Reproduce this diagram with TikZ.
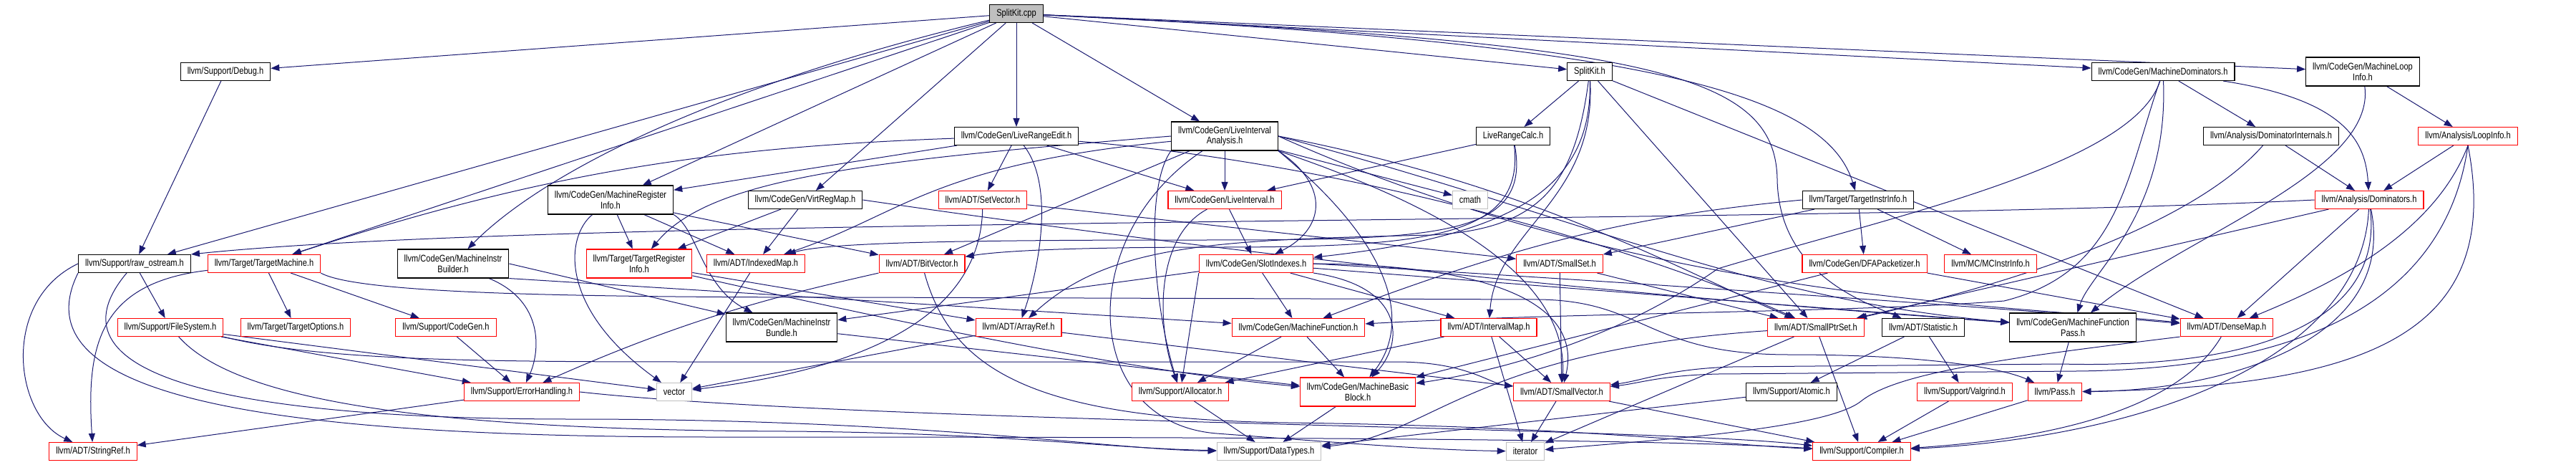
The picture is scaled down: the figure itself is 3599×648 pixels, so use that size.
\documentclass[tikz,border=0pt]{standalone}
\usepackage{fontspec}
\setmainfont{Liberation Sans}[FakeStretch=0.82]
\usetikzlibrary{arrows.meta,backgrounds}
\definecolor{IncNavy}{HTML}{191970}
\definecolor{IncRed}{HTML}{FF0000}
\definecolor{IncGrey}{HTML}{BFBFBF}
\tikzset{
  dep/.style={-{Triangle[length=12pt,width=9pt]}, line width=1pt, draw=IncNavy},
  hdr/.style={draw=black, fill=white, line width=1.1pt, minimum height=25pt,
              inner xsep=9.5pt, inner ysep=0pt, align=center,
              font=\fontsize{13.5}{14.7}\selectfont},
  twoline/.style={minimum height=40pt},
  hdrcut/.style={hdr, draw=IncRed},
  hdrsys/.style={hdr, draw=IncGrey},
  hdrroot/.style={hdr, fill=IncGrey},
}
\begin{document}
\begin{tikzpicture}[x=1pt,y=-1pt]
  \useasboundingbox (0,0) rectangle (3599,648);

  \node[hdrroot] (root) at (1420,19) {SplitKit.cpp};

  \node[hdr] (debug) at (315,100) {llvm/Support/Debug.h};
  \node[hdr] (splitkith) at (2221,100) {SplitKit.h};
  \node[hdr] (mdom) at (3022,100) {llvm/CodeGen/MachineDominators.h};
  \node[hdr,twoline] (mloop) at (3301,100) {llvm/CodeGen/MachineLoop\\Info.h};

  \node[hdr] (lre) at (1420,190) {llvm/CodeGen/LiveRangeEdit.h};
  \node[hdr,twoline] (lia) at (1711,190) {llvm/CodeGen/LiveInterval\\Analysis.h};
  \node[hdr] (lrc) at (2114,190) {LiveRangeCalc.h};
  \node[hdr] (domint) at (3173,190) {llvm/Analysis/DominatorInternals.h};
  \node[hdrcut] (loopinfo) at (3448,190) {llvm/Analysis/LoopInfo.h};

  \node[hdr,twoline] (mri) at (853,279) {llvm/CodeGen/MachineRegister\\Info.h};
  \node[hdr] (vrm) at (1125,279) {llvm/CodeGen/VirtRegMap.h};
  \node[hdrcut] (setvec) at (1373,279) {llvm/ADT/SetVector.h};
  \node[hdrcut] (liveint) at (1711,279) {llvm/CodeGen/LiveInterval.h};
  \node[hdrsys] (cmath) at (2054,279) {cmath};
  \node[hdr] (tii) at (2596,279) {llvm/Target/TargetInstrInfo.h};
  \node[hdrcut] (dom) at (3310,279) {llvm/Analysis/Dominators.h};

  \node[hdr] (rawos) at (188,368) {llvm/Support/raw\_ostream.h};
  \node[hdrcut] (tm) at (369,368) {llvm/Target/TargetMachine.h};
  \node[hdr,twoline] (mib) at (633,368) {llvm/CodeGen/MachineInstr\\Builder.h};
  \node[hdrcut,twoline] (tri) at (893,368) {llvm/Target/TargetRegister\\Info.h};
  \node[hdrcut] (idxmap) at (1056,368) {llvm/ADT/IndexedMap.h};
  \node[hdrcut] (bitvec) at (1288,368) {llvm/ADT/BitVector.h};
  \node[hdrcut] (slotidx) at (1755,368) {llvm/CodeGen/SlotIndexes.h};
  \node[hdrcut] (smallset) at (2179,368) {llvm/ADT/SmallSet.h};
  \node[hdrcut] (dfa) at (2605,368) {llvm/CodeGen/DFAPacketizer.h};
  \node[hdrcut] (mcii) at (2781,368) {llvm/MC/MCInstrInfo.h};

  \node[hdrcut] (fs) at (238,457) {llvm/Support/FileSystem.h};
  \node[hdrcut] (topt) at (413,457) {llvm/Target/TargetOptions.h};
  \node[hdrcut] (cg) at (623,457) {llvm/Support/CodeGen.h};
  \node[hdr,twoline] (mibundle) at (1092,457) {llvm/CodeGen/MachineInstr\\Bundle.h};
  \node[hdrcut] (arrayref) at (1423,457) {llvm/ADT/ArrayRef.h};
  \node[hdrcut] (mf) at (1814,457) {llvm/CodeGen/MachineFunction.h};
  \node[hdrcut] (ivmap) at (2080,457) {llvm/ADT/IntervalMap.h};
  \node[hdrcut] (smallptr) at (2537,457) {llvm/ADT/SmallPtrSet.h};
  \node[hdr] (stat) at (2687,457) {llvm/ADT/Statistic.h};
  \node[hdr,twoline] (mfp) at (2896,457) {llvm/CodeGen/MachineFunction\\Pass.h};
  \node[hdrcut] (densemap) at (3111,457) {llvm/ADT/DenseMap.h};

  \node[hdrcut] (errh) at (729,547) {llvm/Support/ErrorHandling.h};
  \node[hdrsys] (vector) at (942,547) {vector};
  \node[hdrcut] (alloc) at (1649,547) {llvm/Support/Allocator.h};
  \node[hdrcut,twoline] (mbb) at (1897,547) {llvm/CodeGen/MachineBasic\\Block.h};
  \node[hdrcut] (smallvec) at (2182,547) {llvm/ADT/SmallVector.h};
  \node[hdr] (atomic) at (2503,547) {llvm/Support/Atomic.h};
  \node[hdrcut] (valgrind) at (2745,547) {llvm/Support/Valgrind.h};
  \node[hdrcut] (pass) at (2871,547) {llvm/Pass.h};

  \node[hdrcut] (strref) at (130,630) {llvm/ADT/StringRef.h};
  \node[hdrsys] (datatypes) at (1773,630) {llvm/Support/DataTypes.h};
  \node[hdrsys] (iterator) at (2131,630) {iterator};
  \node[hdrcut] (compiler) at (2601,630) {llvm/Support/Compiler.h};

  \begin{scope}[on background layer]
    \draw[dep] (root) -- (debug);
    \draw[dep] (root) -- (rawos);
    \draw[dep] (root) -- (tm);
    \draw[dep] (root) -- (mri);
    \draw[dep] (root) .. controls (1000,120) and (760,240) .. (mib);
    \draw[dep] (root) -- (vrm);
    \draw[dep] (root) -- (lre);
    \draw[dep] (root) -- (lia);
    \draw[dep] (root) -- (splitkith);
    \draw[dep] (root) .. controls (2300,60) and (2550,130) .. (tii);
    \draw[dep] (root) -- (mdom);
    \draw[dep] (root) -- (mloop);
    \draw[dep] (root) .. controls (2300,60) and (2480,100) .. (2483,250) .. controls (2485,380) and (2600,420) .. (stat);

    \draw[dep] (debug) -- (rawos);

    \draw[dep] (splitkith) -- (lrc);
    \draw[dep] (splitkith) .. controls (2200,260) and (2150,320) .. (2000,328) .. controls (1700,335) and (1550,340) .. (arrayref);
    \draw[dep] (splitkith) -- (densemap);
    \draw[dep] (splitkith) .. controls (2230,280) and (2090,320) .. (ivmap);
    \draw[dep] (splitkith) -- (smallptr);
    \draw[dep] (splitkith) .. controls (2225,270) and (2100,330) .. (slotidx);

    \draw[dep] (mdom) .. controls (2980,230) and (2650,300) .. (2400,375) .. controls (2250,480) and (2080,520) .. (mbb);
    \draw[dep] (mdom) .. controls (2970,250) and (2960,380) .. (2800,420) .. controls (2600,436) and (2200,436) .. (mf);
    \draw[dep] (mdom) .. controls (3030,300) and (2920,380) .. (mfp);
    \draw[dep] (mdom) .. controls (3280,140) and (3305,200) .. (dom);
    \draw[dep] (mdom) -- (domint);

    \draw[dep] (mloop) .. controls (3320,240) and (3050,330) .. (mfp);
    \draw[dep] (mloop) -- (loopinfo);

    \draw[dep] (lre) .. controls (1475,260) and (1450,380) .. (arrayref);
    \draw[dep] (lre) .. controls (1900,230) and (2300,350) .. (smallptr);
    \draw[dep] (lre) -- (setvec);
    \draw[dep] (lre) -- (liveint);
    \draw[dep] (lre) -- (mri);
    \draw[dep] (lre) .. controls (1000,205) and (760,240) .. (tm);

    \draw[dep] (lia.south east) .. controls (1990,380) and (1950,480) .. (mbb);
    \draw[dep] (lia.east) .. controls (2200,300) and (2450,420) .. (mfp);
    \draw[dep] (lia) -- (liveint);
    \draw[dep] (lia.south east) .. controls (1860,260) and (1850,320) .. (slotidx);
    \draw[dep] (lia) -- (bitvec);
    \draw[dep] (lia.east) .. controls (2300,420) and (2800,425) .. (densemap);
    \draw[dep] (lia) .. controls (1300,230) and (1260,300) .. (idxmap);
    \draw[dep] (lia.east) .. controls (2150,260) and (2350,380) .. (smallptr);
    \draw[dep] (lia.south east) .. controls (2050,300) and (2190,400) .. (smallvec);
    \draw[dep] (lia.south west) .. controls (1600,260) and (1610,420) .. (alloc);
    \draw[dep] (lia.west) .. controls (1200,225) and (990,250) .. (tri);
    \draw[dep] (lia) -- (cmath);
    \draw[dep] (lia) .. controls (1500,330) and (1510,590) .. (1700,605) .. controls (1900,620) and (2000,628) .. (iterator);

    \draw[dep] (lrc) -- (liveint);
    \draw[dep] (lrc) .. controls (2130,330) and (2000,345) .. (1700,345) .. controls (1500,345) and (1400,350) .. (bitvec);
    \draw[dep] (lrc) .. controls (2140,335) and (2000,335) .. (1650,335) .. controls (1300,335) and (1150,340) .. (idxmap);

    \draw[dep] (domint) -- (dom);
    \draw[dep] (domint) .. controls (3050,330) and (2750,410) .. (smallptr);

    \draw[dep] (loopinfo) -- (dom);
    \draw[dep] (loopinfo.south) .. controls (3400,330) and (3250,400) .. (densemap);
    \draw[dep] (loopinfo.south) .. controls (3420,400) and (3250,515) .. (2900,518) -- (2400,522) .. controls (2320,524) and (2290,535) .. (smallvec);
    \draw[dep] (loopinfo.south) .. controls (3500,470) and (3300,540) .. (pass);

    \draw[dep] (mri) -- (tri);
    \draw[dep] (mri.south east) .. controls (975,320) and (980,400) .. (mibundle);
    \draw[dep] (mri) -- (bitvec);
    \draw[dep] (mri) -- (idxmap);
    \draw[dep] (mri) .. controls (790,330) and (780,430) .. (vector);

    \draw[dep] (vrm.east) .. controls (1900,380) and (2400,420) .. (mfp);
    \draw[dep] (vrm) -- (tri);
    \draw[dep] (vrm) -- (idxmap);

    \draw[dep] (setvec) -- (smallset);
    \draw[dep] (setvec) .. controls (1370,420) and (1250,510) .. (vector);

    \draw[dep] (liveint) .. controls (1615,330) and (1615,450) .. (alloc);
    \draw[dep] (liveint) -- (slotidx);

    \draw[dep] (tii) -- (smallset);
    \draw[dep] (tii) -- (dfa);
    \draw[dep] (tii.west) .. controls (2300,300) and (2150,330) .. (mf);
    \draw[dep] (tii) -- (mcii);

    \draw[dep] (dom.west) .. controls (2500,315) and (800,300) .. (rawos.north east);
    \draw[dep] (dom) -- (densemap);
    \draw[dep] (dom) -- (smallptr);
    \draw[dep] (dom) .. controls (3330,450) and (3150,515) .. (2880,508) -- (2420,512) .. controls (2330,515) and (2300,530) .. (smallvec);
    \draw[dep] (dom) .. controls (3300,500) and (3000,610) .. (compiler);
    \draw[dep] (dom) .. controls (3350,480) and (3100,545) .. (pass);

    \draw[dep] (rawos.west) .. controls (0,420) and (20,580) .. (strref);
    \draw[dep] (rawos.south west) .. controls (20,560) and (400,610) .. (1000,610) .. controls (1700,610) and (2300,612) .. (compiler);
    \draw[dep] (rawos) .. controls (60,520) and (300,585) .. (800,585) .. controls (1300,585) and (1550,628) .. (datatypes);
    \draw[dep] (rawos) -- (fs);

    \draw[dep] (tm) .. controls (140,395) and (120,480) .. (strref);
    \draw[dep] (tm) -- (topt);
    \draw[dep] (tm) -- (cg);
    \draw[dep] (tm.south east) .. controls (500,410) and (800,415) .. (1200,415) -- (2150,418) .. controls (2300,420) and (2300,495) .. (2500,495) .. controls (2700,495) and (2800,515) .. (pass);

    \draw[dep] (mib.south east) -- (mf);
    \draw[dep] (mib.east) -- (mibundle);
    \draw[dep] (mib) .. controls (760,420) and (755,490) .. (errh);

    \draw[dep] (tri) .. controls (1300,460) and (1600,520) .. (mbb);
    \draw[dep] (tri) -- (arrayref);

    \draw[dep] (idxmap) -- (vector);
    \draw[dep] (bitvec.south west) .. controls (1100,410) and (970,440) .. (errh);
    \draw[dep] (bitvec) .. controls (1330,520) and (1450,585) .. (1800,590) .. controls (2200,595) and (2400,620) .. (compiler);

    \draw[dep] (slotidx) -- (mibundle);
    \draw[dep] (slotidx) -- (mf);
    \draw[dep] (slotidx) -- (mfp);
    \draw[dep] (slotidx.south east) .. controls (1965,400) and (1960,480) .. (mbb);
    \draw[dep] (slotidx.east) .. controls (2300,395) and (2800,430) .. (densemap);
    \draw[dep] (slotidx) -- (ivmap);
    \draw[dep] (slotidx.east) .. controls (2100,370) and (2210,430) .. (smallvec);
    \draw[dep] (slotidx.south west) -- (alloc);

    \draw[dep] (smallset) -- (smallptr);
    \draw[dep] (smallset) -- (smallvec);
    \draw[dep] (dfa) -- (mbb);
    \draw[dep] (dfa.south east) -- (densemap);

    \draw[dep] (fs) -- (errh);
    \draw[dep] (fs) -- (vector);
    \draw[dep] (fs) .. controls (330,560) and (600,600) .. (1100,602) .. controls (1400,604) and (1550,626) .. (datatypes);
    \draw[dep] (fs.south east) .. controls (450,505) and (700,505) .. (1000,505) -- (1950,505) .. controls (2050,505) and (2080,535) .. (smallvec);
    \draw[dep] (cg) -- (errh);
    \draw[dep] (mibundle) -- (mbb);
    \draw[dep] (arrayref) -- (smallvec);
    \draw[dep] (arrayref) -- (vector);
    \draw[dep] (mf) -- (mbb);
    \draw[dep] (mf) -- (alloc);
    \draw[dep] (ivmap) -- (alloc);
    \draw[dep] (ivmap) -- (iterator);
    \draw[dep] (ivmap) -- (smallvec);
    \draw[dep] (smallptr) .. controls (2050,490) and (2000,610) .. (datatypes);
    \draw[dep] (smallptr) -- (iterator);
    \draw[dep] (smallptr) -- (compiler);
    \draw[dep] (stat) -- (atomic);
    \draw[dep] (stat) -- (valgrind);
    \draw[dep] (mfp) -- (pass);
    \draw[dep] (densemap) .. controls (3050,560) and (2900,610) .. (compiler);
    \draw[dep] (densemap.south west) .. controls (2800,500) and (2650,520) .. (2600,560) .. controls (2550,600) and (2300,615) .. (iterator);

    \draw[dep] (errh) -- (strref);
    \draw[dep] (errh.east) .. controls (1200,590) and (2300,595) .. (compiler);
    \draw[dep] (alloc) -- (datatypes);
    \draw[dep] (mbb) -- (datatypes);
    \draw[dep] (smallvec) -- (iterator);
    \draw[dep] (smallvec) -- (compiler);
    \draw[dep] (atomic) -- (datatypes);
    \draw[dep] (valgrind) -- (compiler);
    \draw[dep] (pass) -- (compiler);
  \end{scope}
\end{tikzpicture}
\end{document}
